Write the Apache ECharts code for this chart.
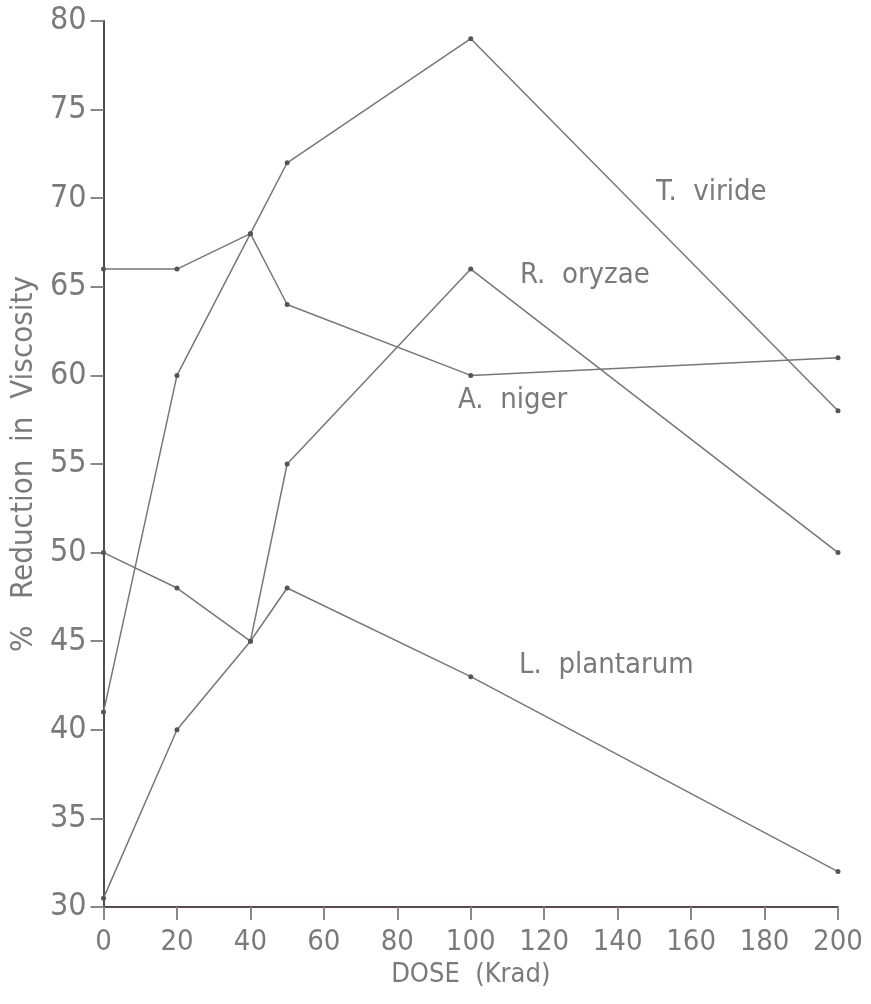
<!DOCTYPE html>
<html>
<head>
<meta charset="utf-8">
<script src="https://cdn.jsdelivr.net/npm/echarts@6/dist/echarts.min.js"></script>
<style>
    html, body { margin: 0; padding: 0; background: #fff; }
    #chart { width: 871px; height: 1004px; }
</style>
</head>
<body>
<div id="chart"></div>
<script>
    // dose values (Krad) and % reduction per organism
    const doses = [0, 20, 40, 50, 100, 200];
    const tViride = [41, 60, 68, 72, 79, 58];
    const aNiger = [66, 66, 68, 64, 60, 61];
    const rOryzae = [30.5, 40, 45, 55, 66, 50];
    const lPlantarum = [50, 48, 45, 48, 43, 32];
    const seriesNames = ['T.  viride', 'A.  niger', 'R.  oryzae', 'L.  plantarum'];

    const pairs = (ys) => doses.map((d, i) => [d, ys[i]]);

    const textColor = '#7a7a7a';
    const axisColor = '#5a4a4a';
    const font = "'DejaVu Sans Condensed', 'DejaVu Sans'";

    const myChart = echarts.init(document.getElementById('chart'));

    const makeLine = (name, ys) => ({
        name: name,
        type: 'line',
        data: pairs(ys),
        symbol: 'circle',
        symbolSize: 5,
        itemStyle: { color: '#555' },
        lineStyle: { color: '#777', width: 1.5 },
        animation: false,
    });

    const option = {
        backgroundColor: '#fff',
        grid: { left: 103, right: 33, top: 21, bottom: 97, containLabel: false },
        xAxis: {
            type: 'value',
            min: 0,
            max: 200,
            interval: 20,
            name: 'DOSE  (Krad)',
            nameLocation: 'middle',
            nameGap: 54,
            nameTextStyle: { color: textColor, fontFamily: font, fontSize: 27 },
            axisLine: { lineStyle: { color: axisColor, width: 2 } },
            axisTick: { show: true, inside: false, length: 13, lineStyle: { color: '#888', width: 2 } },
            axisLabel: { color: textColor, fontFamily: font, fontSize: 29, margin: 21 },
            splitLine: { show: false },
        },
        yAxis: {
            type: 'value',
            min: 30,
            max: 80,
            interval: 5,
            name: '%   Reduction  in  Viscosity',
            nameLocation: 'middle',
            nameRotate: 90,
            nameGap: 64,
            nameTextStyle: { color: textColor, fontFamily: font, fontSize: 31 },
            axisLine: { show: true, lineStyle: { color: axisColor, width: 2 } },
            axisTick: { show: true, inside: false, length: 13, lineStyle: { color: '#888', width: 2 } },
            axisLabel: { color: textColor, fontFamily: font, fontSize: 32, margin: 17 },
            splitLine: { show: false },
        },
        series: [
            makeLine(seriesNames[0], tViride),
            makeLine(seriesNames[1], aNiger),
            makeLine(seriesNames[2], rOryzae),
            makeLine(seriesNames[3], lPlantarum),
        ],
        graphic: [
            { type: 'text', left: 656, top: 178, style: { text: seriesNames[0], fill: textColor, font: '29px ' + font } },
            { type: 'text', left: 520, top: 261, style: { text: seriesNames[2], fill: textColor, font: '29px ' + font } },
            { type: 'text', left: 458, top: 386, style: { text: seriesNames[1], fill: textColor, font: '29px ' + font } },
            { type: 'text', left: 519, top: 651, style: { text: seriesNames[3], fill: textColor, font: '29px ' + font } },
        ],
    };

    option && myChart.setOption(option);
</script>
</body>
</html>
